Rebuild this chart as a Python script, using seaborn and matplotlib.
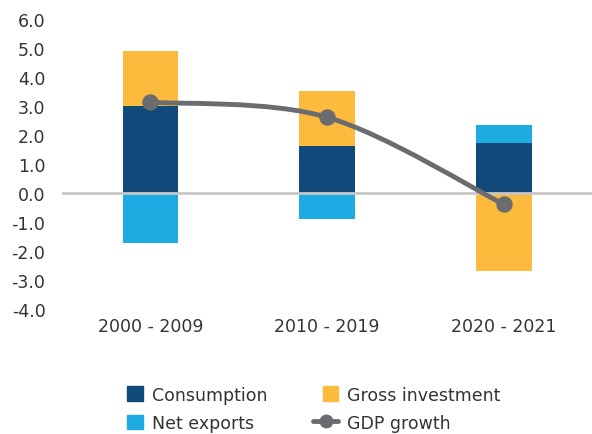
import numpy as np
import pandas as pd
import matplotlib
import matplotlib.pyplot as plt
from matplotlib.path import Path
from matplotlib.patches import PathPatch, Patch
from matplotlib.lines import Line2D
from matplotlib.legend_handler import HandlerLine2D
import seaborn as sns

matplotlib.use('Agg')

periods = ['2000 - 2009', '2010 - 2019', '2020 - 2021']
consumption = [3.0, 1.62, 1.72]
gross_investment = [1.87, 1.89, -2.70]
net_exports = [-1.75, -0.91, 0.60]
gdp_growth = [3.12, 2.60, -0.40]

colors = {'Consumption': '#11497a', 'Gross investment': '#fdbb3d',
          'Net exports': '#1eabe2'}
line_color = '#6b6c70'
text_color = '#333333'

sns.set_theme(style='white')
plt.rcParams['font.family'] = ['DejaVu Sans']

fig = plt.figure(figsize=(5.92, 4.35), dpi=100)
ax = fig.add_axes([0.105, 0.288, 0.895, 0.667])

# stacked bars, positives going up and negatives going down
pos_base = np.zeros(len(periods))
neg_base = np.zeros(len(periods))
for name, vals in [('Consumption', consumption),
                   ('Gross investment', gross_investment),
                   ('Net exports', net_exports)]:
    vals = np.array(vals)
    bottom = np.where(vals >= 0, pos_base, neg_base)
    df = pd.DataFrame({'period': periods, 'value': vals})
    sns.barplot(data=df, x='period', y='value', bottom=bottom, color=colors[name],
                saturation=1, width=0.315, ax=ax, linewidth=0, zorder=2)
    pos_base = pos_base + np.where(vals >= 0, vals, 0)
    neg_base = neg_base + np.where(vals < 0, vals, 0)

ax.axhline(0, color='#c8c8c8', lw=2, zorder=3)

# smoothed line (Catmull-Rom as cubic Bezier)
xs = np.arange(len(periods), dtype=float)
pts = np.column_stack([xs, gdp_growth])
ext = np.vstack([pts[0], pts, pts[-1]])
verts = [tuple(pts[0])]
codes = [Path.MOVETO]
for i in range(len(pts) - 1):
    p0, p1, p2, p3 = ext[i], ext[i + 1], ext[i + 2], ext[i + 3]
    c1 = p1 + (p2 - p0) / 6
    c2 = p2 - (p3 - p1) / 6
    verts += [tuple(c1), tuple(c2), tuple(p2)]
    codes += [Path.CURVE4] * 3
ax.add_patch(PathPatch(Path(verts, codes), fill=False, edgecolor=line_color,
                       lw=3.5, zorder=4, capstyle='round'))
sns.scatterplot(x=xs, y=gdp_growth, color=line_color, s=140, linewidth=0,
                zorder=5, ax=ax)

ax.set_xlim(-0.5, 2.5)
ax.set_ylim(-4.0, 6.0)
ax.set_yticks(np.arange(-4, 7, 1))
ax.set_yticklabels([f'{v:.1f}' for v in np.arange(-4, 7, 1)])
ax.set_xlabel('')
ax.set_ylabel('')
ax.tick_params(axis='both', length=0, labelsize=12.5, colors=text_color)
ax.tick_params(axis='x', pad=6)
ax.tick_params(axis='y', pad=12)
for s in ax.spines.values():
    s.set_visible(False)


class WideLine(HandlerLine2D):
    def create_artists(self, legend, orig_handle, xdescent, ydescent,
                       width, height, fontsize, trans):
        return super().create_artists(legend, orig_handle, xdescent + 0.6 * width,
                                      ydescent, width * 1.6, height, fontsize, trans)


gdp_handle = Line2D([], [], color=line_color, lw=3.5, marker='o', markersize=9,
                    label='GDP growth')
handles = [Patch(color=colors['Consumption'], label='Consumption'),
           Patch(color=colors['Net exports'], label='Net exports'),
           Patch(color=colors['Gross investment'], label='Gross investment'),
           gdp_handle]
fig.legend(handles=handles, ncol=2, loc='center', bbox_to_anchor=(0.53, 0.058),
           frameon=False, fontsize=12.5, labelcolor=text_color, handlelength=0.9,
           handleheight=0.9, columnspacing=3.2, handletextpad=0.5,
           labelspacing=0.6, handler_map={gdp_handle: WideLine()})

fig.savefig('out.png', dpi=100)
